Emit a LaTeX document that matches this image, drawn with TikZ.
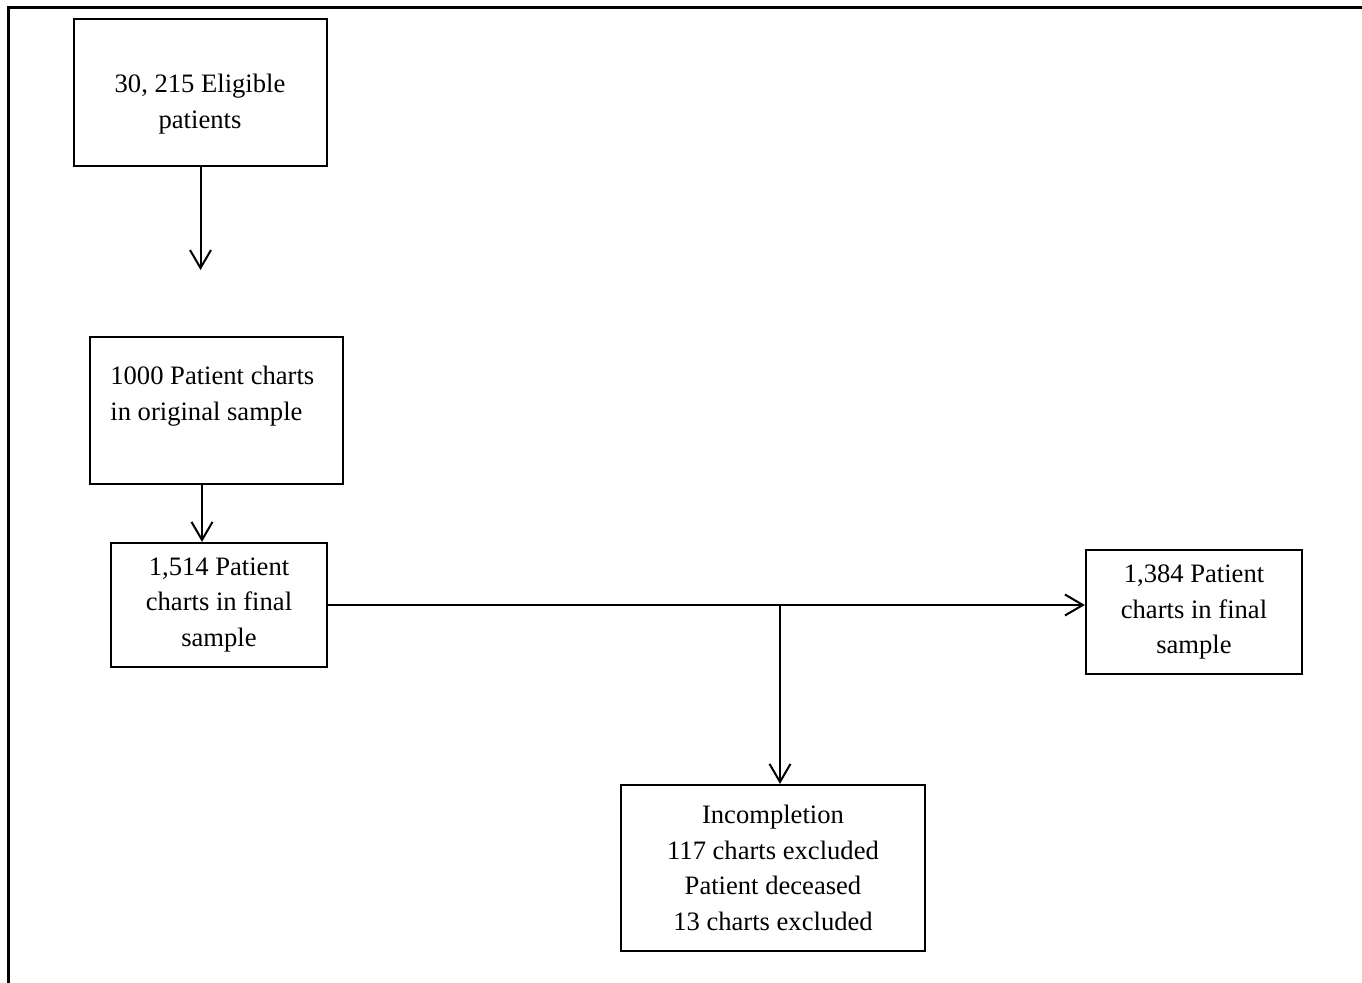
\documentclass[tikz,border=0pt]{standalone}
\usepackage{fontspec}
\setmainfont{Liberation Serif}
\usetikzlibrary{arrows.meta}
\tikzset{
  chartbox/.style={draw=black,line width=1.1pt,align=center,inner sep=0pt,
    font=\fontsize{13.3}{17.7}\selectfont},
  boxtext/.style={inner sep=0pt,font=\fontsize{13.3}{17.7}\selectfont},
  flowarrow/.style={-{Straight Barb[length=9pt,width=10.5pt,line width=1pt]},line width=1pt},
  frameline/.style={line width=1.5pt}
}
\begin{document}
\begin{tikzpicture}[x=0.5pt,y=-0.5pt]
  \useasboundingbox (0,0) rectangle (1362,983);
  \draw[frameline] (8,983) -- (8,8) -- (1362,8);
  % boxes
  \node[chartbox,minimum width=126.5pt,minimum height=73.5pt] (eligible) at (200.5,92.5) {};
  \node[boxtext,align=center] (eligibletext) at (200,104) {30, 215 Eligible\\patients};
  \coordinate (gap) at (201,270);
  \node[chartbox,minimum width=126.5pt,minimum height=73.5pt] (original) at (216.5,410.5) {};
  \node[boxtext,align=left,anchor=west] (originaltext) at (110,396)
    {1000 Patient charts\\in original sample};
  \node[chartbox,minimum width=108pt,minimum height=62pt] (final) at (219,605)
    {1,514 Patient\\charts in final\\sample};
  \node[chartbox,minimum width=108pt,minimum height=62pt] (include) at (1194,612)
    {1,384 Patient\\charts in final\\sample};
  \node[chartbox,minimum width=152pt,minimum height=83pt] (excluded) at (773,868)
    {Incompletion\\117 charts excluded\\Patient deceased\\13 charts excluded};
  % connectors
  \draw[flowarrow] (eligible.south) -- (eligible.south |- gap);
  \draw[flowarrow] ([xshift=-7.25pt]original.south) -- ([xshift=-7.25pt]original.south |- final.north);
  \draw[flowarrow] (final.east) -- (final.east -| include.west);
  \coordinate (branch) at ([xshift=3.5pt]excluded.north |- final.east);
  \draw[flowarrow] (branch) -- (branch |- excluded.north);
\end{tikzpicture}
\end{document}
